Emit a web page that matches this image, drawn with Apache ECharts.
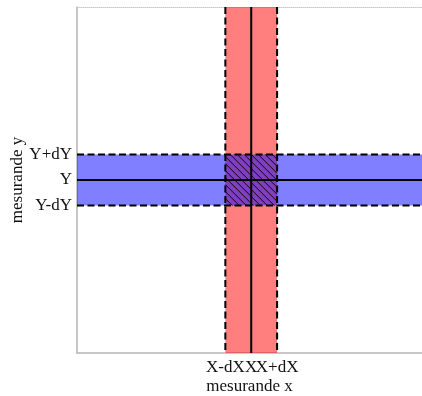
<!DOCTYPE html>
<html>
<head>
<meta charset="utf-8">
<script src="https://cdn.jsdelivr.net/npm/echarts@6/dist/echarts.min.js"></script>
<style>
html,body{margin:0;padding:0;background:#fff;}
#chart{width:422px;height:396px;}
</style>
</head>
<body>
<div id="chart"></div>
<script>
// Data (arbitrary units 0..1)
const xMeasure = [0.505];   // X
const xUncert = [0.075];    // dX
const yMeasure = [0.5];     // Y
const yUncert = [0.074];    // dY
const xTickLabels = ['X-dX', 'X', 'X+dX'];
const yTickLabels = ['Y-dY', 'Y', 'Y+dY'];
const xName = 'mesurande x';
const yName = 'mesurande y';

const X = xMeasure[0], dX = xUncert[0], Y = yMeasure[0], dY = yUncert[0];
const xTickValues = [X - dX, X, X + dX];
const yTickValues = [Y - dY, Y, Y + dY];
const FONT = "'Liberation Serif', 'DejaVu Serif', serif";

function renderItem(params, api) {
  const cs = params.coordSys;
  const xc = api.value(0), hx = api.value(1), yc = api.value(2), hy = api.value(3);
  const xl = api.coord([xc - hx, yc])[0];
  const xm = api.coord([xc, yc])[0];
  const xr = api.coord([xc + hx, yc])[0];
  const yt = api.coord([xc, yc + hy])[1];
  const ym = api.coord([xc, yc])[1];
  const yb = api.coord([xc, yc - hy])[1];
  const x0 = cs.x, x1 = cs.x + cs.width, y0 = cs.y, y1 = cs.y + cs.height;
  const children = [];
  // fills
  children.push({type: 'rect', shape: {x: xl, y: y0, width: xr - xl, height: y1 - y0}, style: {fill: 'rgba(255,0,0,0.5)'}});
  children.push({type: 'rect', shape: {x: x0, y: yt, width: x1 - x0, height: yb - yt}, style: {fill: 'rgba(0,0,255,0.5)'}});
  // hatch in overlap (lines going top-left to bottom-right)
  const step = 7;
  for (let c = xl - yb; c <= xr - yt; c += step) {
    const sx = Math.max(xl, yt + c), ex = Math.min(xr, yb + c);
    if (ex > sx) {
      children.push({type: 'line', shape: {x1: sx, y1: sx - c, x2: ex, y2: ex - c}, style: {stroke: '#000', lineWidth: 0.9}});
    }
  }
  const dash = [7, 3.5];
  // dashed edges
  [xl, xr].forEach(function (x) {
    children.push({type: 'line', shape: {x1: x, y1: y0, x2: x, y2: y1}, style: {stroke: '#000', lineWidth: 2, lineDash: dash}});
  });
  [yt, yb].forEach(function (y) {
    children.push({type: 'line', shape: {x1: x0, y1: y, x2: x1, y2: y}, style: {stroke: '#000', lineWidth: 2, lineDash: dash}});
  });
  // centre lines
  children.push({type: 'line', shape: {x1: xm, y1: y0, x2: xm, y2: y1}, style: {stroke: '#000', lineWidth: 2}});
  children.push({type: 'line', shape: {x1: x0, y1: ym, x2: x1, y2: ym}, style: {stroke: '#000', lineWidth: 2}});
  return {type: 'group', children: children};
}

function labelFor(values, labels) {
  return function (v) {
    for (let i = 0; i < values.length; i++) if (Math.abs(v - values[i]) < 1e-6) return labels[i];
    return '';
  };
}

const labelStyle = {fontFamily: FONT, fontSize: 17, color: '#111'};

const chart = echarts.init(document.getElementById('chart'), null, {renderer: 'canvas'});
chart.setOption({
  animation: false,
  backgroundColor: '#fff',
  grid: {left: 77, right: 0, top: 7, bottom: 43, containLabel: false, outerBoundsMode: 'none'},
  xAxis: [{
    type: 'value', min: 0, max: 1, position: 'bottom',
    name: xName, nameLocation: 'middle', nameGap: 25, nameMoveOverlap: false,
    nameTextStyle: labelStyle,
    axisLine: {show: true, onZero: false, lineStyle: {color: '#b5b5b5', width: 1.5}},
    axisTick: {show: false},
    splitLine: {show: false},
    axisLabel: Object.assign({
      customValues: xTickValues.slice(0, 2), margin: 6, hideOverlap: false,
      formatter: labelFor(xTickValues, xTickLabels)
    }, labelStyle)
  }, {
    type: 'value', min: 0, max: 1, position: 'bottom',
    axisLine: {show: false}, axisTick: {show: false}, splitLine: {show: false},
    axisLabel: Object.assign({
      customValues: xTickValues.slice(2), margin: 6, hideOverlap: false,
      formatter: labelFor(xTickValues, xTickLabels)
    }, labelStyle)
  }, {
    type: 'value', min: 0, max: 1, position: 'top',
    axisLine: {show: true, onZero: false, lineStyle: {color: '#c8c8c8', width: 1, type: 'dotted'}},
    axisTick: {show: false}, axisLabel: {show: false}, splitLine: {show: false}
  }],
  yAxis: [{
    type: 'value', min: 0, max: 1,
    name: yName, nameLocation: 'middle', nameGap: 51, nameRotate: 90, nameMoveOverlap: false,
    nameTextStyle: labelStyle,
    axisLine: {show: true, onZero: false, lineStyle: {color: '#b5b5b5', width: 1.5}},
    axisTick: {show: false},
    splitLine: {show: false},
    axisLabel: Object.assign({
      customValues: yTickValues, margin: 5, hideOverlap: false,
      formatter: labelFor(yTickValues, yTickLabels)
    }, labelStyle)
  }],
  series: [{
    type: 'custom',
    coordinateSystem: 'cartesian2d',
    xAxisIndex: 0, yAxisIndex: 0,
    clip: true,
    silent: true,
    renderItem: renderItem,
    data: [[X, dX, Y, dY]]
  }]
});
</script>
</body>
</html>
